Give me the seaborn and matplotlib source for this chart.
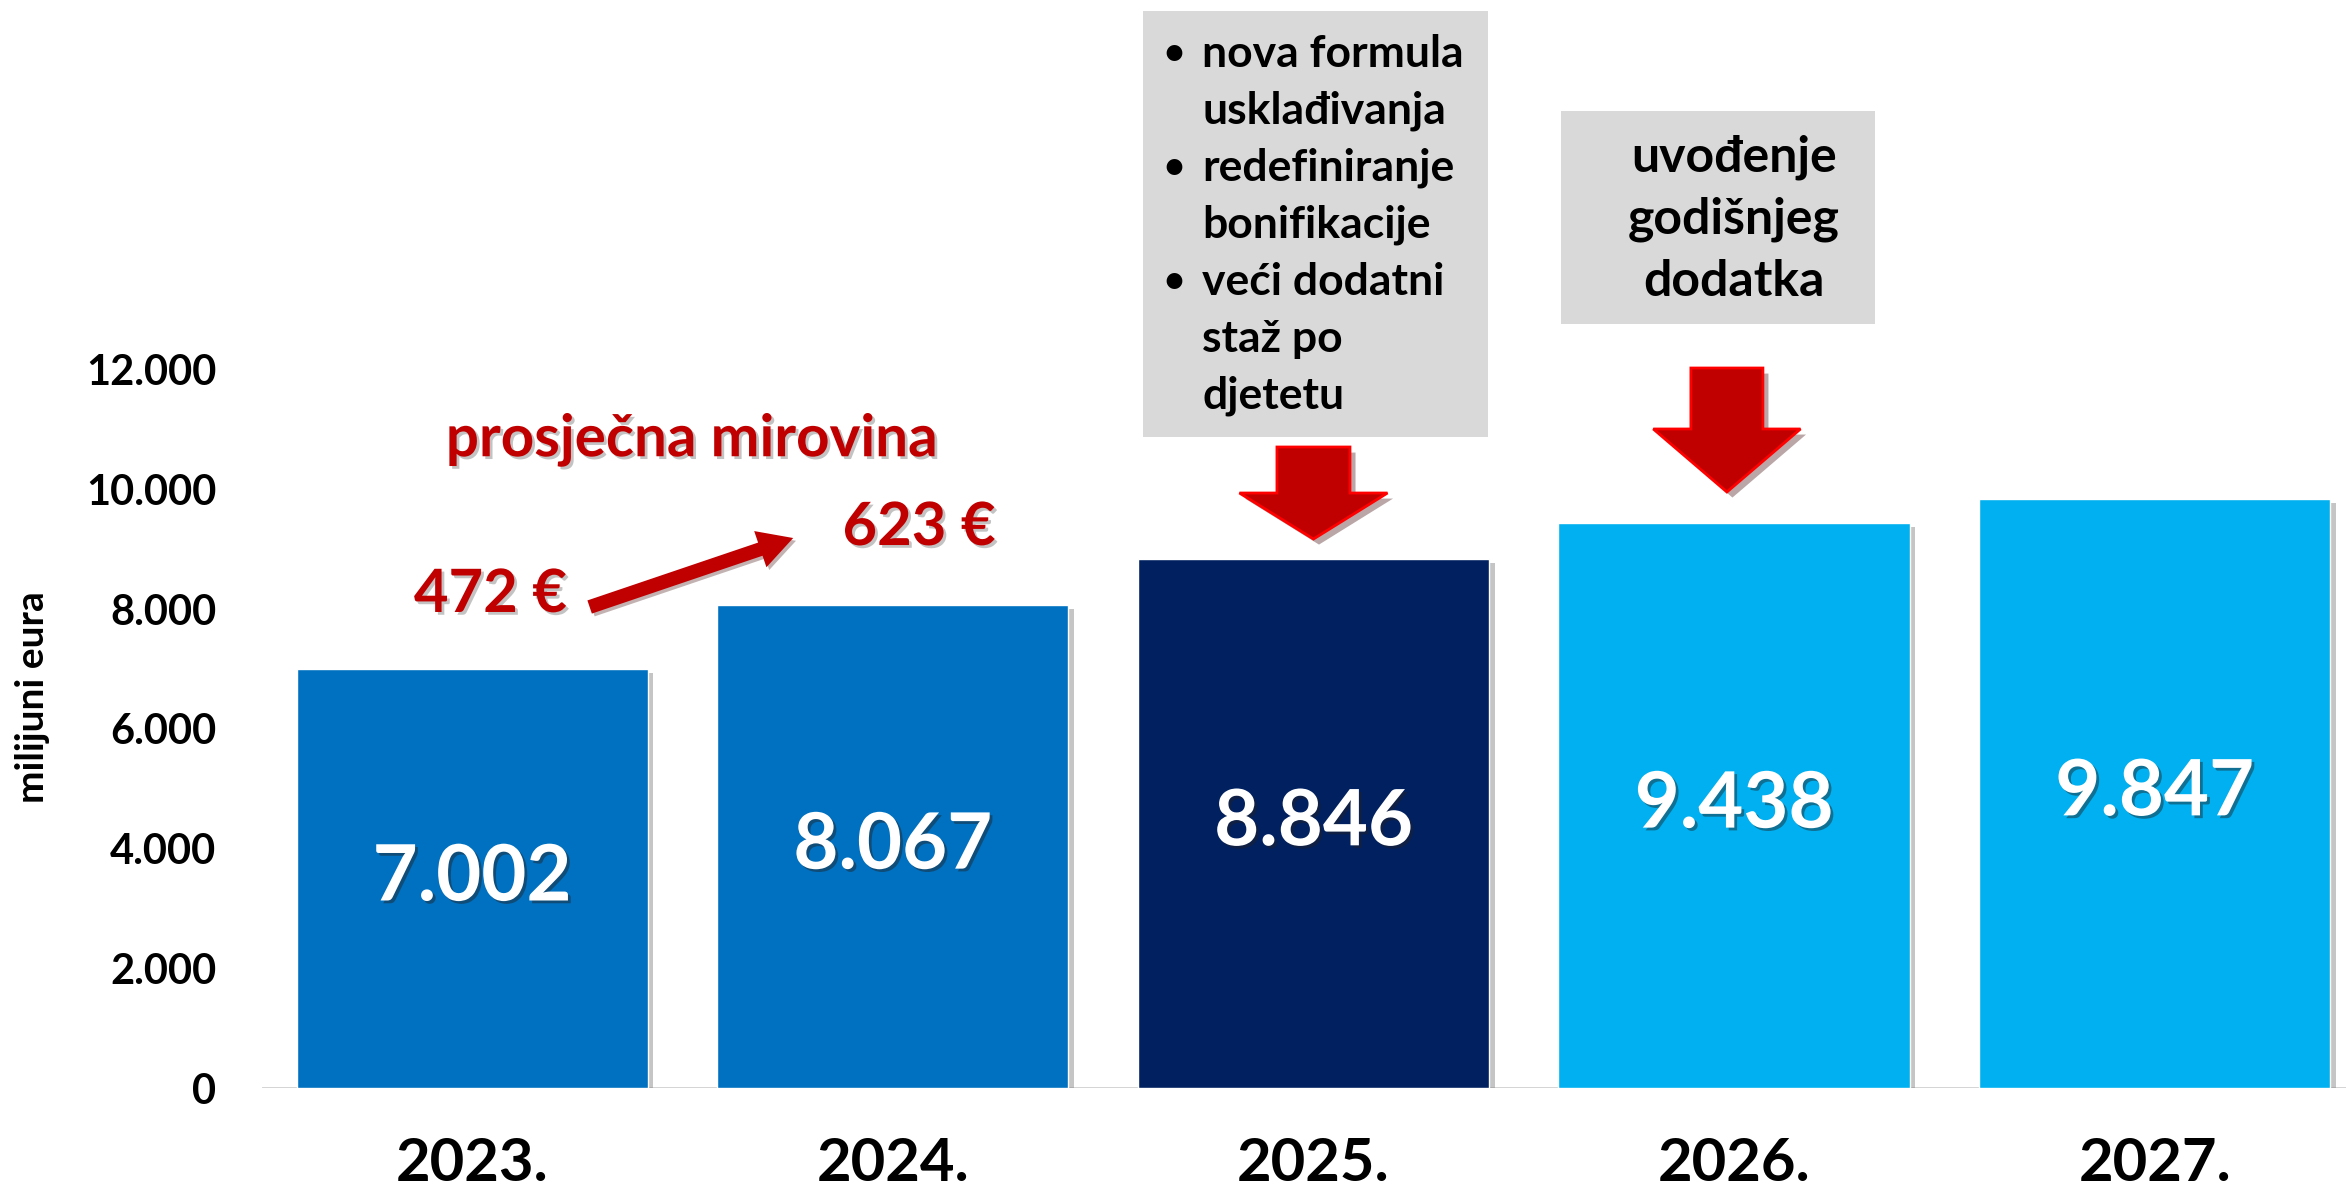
import matplotlib
matplotlib.use('Agg')
import matplotlib.pyplot as plt
import matplotlib.patheffects as pe
from matplotlib.patches import Rectangle, Polygon
import seaborn as sns
import pandas as pd

# podaci
godine = ['2023.', '2024.', '2025.', '2026.', '2027.']
rashodi = [7002, 8067, 8846, 9438, 9847]
oznake_rashoda = ['7.002', '8.067', '8.846', '9.438', '9.847']
boje_stupaca = ['#0070C0', '#0070C0', '#002060', '#00B0F0', '#00B0F0']
y_ticks = [0, 2000, 4000, 6000, 8000, 10000, 12000]
y_tick_oznake = ['0', '2.000', '4.000', '6.000', '8.000', '10.000', '12.000']
prosjecna_mirovina = ['472 €', '623 €']
mjere_2025 = ['nova formula', 'usklađivanja', 'redefiniranje', 'bonifikacije',
              'veći dodatni', 'staž po', 'djetetu']
mjere_2025_grafike = [0, 2, 4]
mjere_2026 = ['uvođenje', 'godišnjeg', 'dodatka']

CRVENA = '#C00000'
SIVA = '#D9D9D9'

sns.set_theme(style='white')
plt.rcParams['font.family'] = ['Lato', 'DejaVu Sans']
plt.rcParams['text.color'] = 'black'
plt.rcParams['xtick.color'] = 'black'
plt.rcParams['ytick.color'] = 'black'

fig = plt.figure(figsize=(23.46, 11.94), dpi=100)
ax = fig.add_axes([262 / 2346, 106 / 1194, 1 - 262 / 2346, 1088 / 1194])

df = pd.DataFrame({'godina': godine, 'iznos': rashodi})
sns.barplot(data=df, x='godina', y='iznos', hue='godina',
            palette=dict(zip(godine, boje_stupaca)), width=0.835,
            saturation=1, legend=False, ax=ax)

sjena = [pe.SimplePatchShadow(offset=(4, -3), shadow_rgbFace='#7f7f7f', alpha=0.45), pe.Normal()]
for p in ax.patches:
    p.set_path_effects(sjena)

ax.set_xlim(-0.5, 4.455)
ax.set_ylim(0, 18182)
sns.despine(ax=ax, left=True, bottom=True)
ax.axhline(0, color='#D0D0D0', lw=2, zorder=0)
ax.set_xlabel('')
ax.set_ylabel('')
ax.set_yticks(y_ticks)
ax.set_yticklabels(y_tick_oznake, fontsize=30, fontweight='bold', color='black')
ax.tick_params(axis='y', length=0, pad=33, labelcolor='black')
ax.tick_params(axis='x', length=0, pad=35, labelsize=43, labelcolor='black')
for lbl in ax.get_xticklabels():
    lbl.set_fontweight('bold')
ax.grid(False)

fig.text(33 / 2346, 1 - 697 / 1194, 'milijuni eura', rotation=90, ha='center', va='center',
         fontsize=28, fontweight='bold', color='black')

# vrijednosti u stupcima
txt_sjena = [pe.withSimplePatchShadow(offset=(2, -2), shadow_rgbFace='#222222', alpha=0.45)]
for i, v in enumerate(rashodi):
    ax.text(i, v / 2, oznake_rashoda[i], ha='center', va='center', color='white',
            fontsize=56, fontweight='bold', path_effects=txt_sjena)

# prosjecna mirovina
crv_sjena = [pe.withSimplePatchShadow(offset=(2, -2), shadow_rgbFace='#555555', alpha=0.35)]
ax.text(0.522, 10829, 'prosječna mirovina', ha='center', va='center', color=CRVENA,
        fontsize=42, fontweight='bold', path_effects=crv_sjena)
ax.text(0.043, 8239, prosjecna_mirovina[0], ha='center', va='center', color=CRVENA,
        fontsize=43, fontweight='bold', path_effects=crv_sjena)
ax.text(1.062, 9358, prosjecna_mirovina[1], ha='center', va='center', color=CRVENA,
        fontsize=43, fontweight='bold', path_effects=crv_sjena)
ax.annotate('', xy=(0.763, 9191), xytext=(0.279, 8038),
            arrowprops=dict(arrowstyle='simple,head_width=1.1,head_length=1.0,tail_width=0.4',
                            mutation_scale=25, fc=CRVENA, ec='none', shrinkA=0, shrinkB=0,
                            path_effects=[pe.withSimplePatchShadow(offset=(2, -2), alpha=0.3)]))


def strelica_dolje(xc, y_vrh, y_vrat, y_siljak, pola_tijela, pola_glave):
    tocke = [(xc - pola_tijela, y_vrh), (xc + pola_tijela, y_vrh), (xc + pola_tijela, y_vrat),
             (xc + pola_glave, y_vrat), (xc, y_siljak), (xc - pola_glave, y_vrat),
             (xc - pola_tijela, y_vrat)]
    ax.add_patch(Polygon(tocke, closed=True, fc=CRVENA, ec='#FF0000', lw=2, clip_on=False,
                         path_effects=[pe.withSimplePatchShadow(offset=(4, -4), alpha=0.35)]))


# okvir 2025.
ax.add_patch(Rectangle((1.595, 10879), 2.415 - 1.595, 17998 - 10879, fc=SIVA, ec='none',
                       clip_on=False, zorder=1))
y_red = 17280
for i, red in enumerate(mjere_2025):
    if i in mjere_2025_grafike:
        ax.text(1.668, y_red, '•', ha='center', va='center', fontsize=26, fontweight='bold',
                color='black', zorder=3)
    ax.text(1.735, y_red, red, ha='left', va='center', fontsize=32, fontweight='bold',
            color='black', zorder=3)
    y_red -= 952.5
strelica_dolje(2.0, 10712, 9943, 9174, 0.0868, 0.176)

# okvir 2026.
ax.add_patch(Rectangle((2.588, 12767), 3.335 - 2.588, 16327 - 12767, fc=SIVA, ec='none',
                       clip_on=False, zorder=1))
for red, y in zip(mjere_2026, [15560, 14510, 13480]):
    ax.text(3.0, y, red, ha='center', va='center', fontsize=36, fontweight='bold',
            color='black', zorder=3)
strelica_dolje(2.983, 12032, 11013, 9960, 0.0856, 0.175)

plt.savefig('out.png', dpi=100)
plt.close()
